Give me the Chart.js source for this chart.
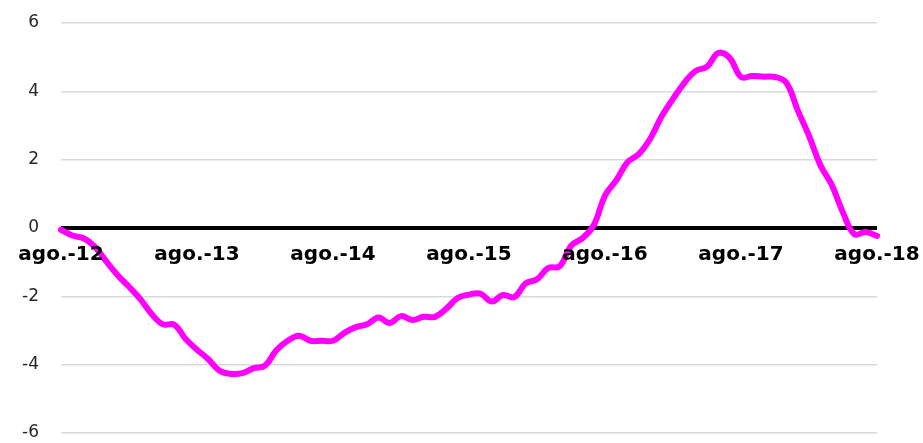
<!DOCTYPE html>
<html><head><meta charset="utf-8">
<script src="https://cdn.jsdelivr.net/npm/chart.js@4/dist/chart.umd.min.js"></script>
<style>html,body{margin:0;padding:0;background:#fff}#wrap{width:923px;height:443px}</style>
</head><body><div id="wrap"><canvas id="c" width="923" height="443"></canvas></div>
<script>
const months = ["ene.","feb.","mar.","abr.","may.","jun.","jul.","ago.","sep.","oct.","nov.","dic."];
// Monthly categories ago.-12 .. ago.-18
const categories = [];
for (let y = 12; y <= 18; y++) {
  for (let m = 0; m < 12; m++) {
    if ((y === 12 && m < 7) || (y === 18 && m > 7)) continue;
    categories.push(months[m] + "-" + y);
  }
}
const seriesValues = [
  -0.05,-0.22,-0.30,-0.55,-0.98,-1.38,-1.72,-2.08,-2.52,-2.82,-2.83,-3.25,
  -3.56,-3.84,-4.18,-4.27,-4.25,-4.10,-4.03,-3.58,-3.30,-3.15,-3.30,-3.30,
  -3.30,-3.07,-2.90,-2.82,-2.62,-2.78,-2.58,-2.69,-2.60,-2.60,-2.36,-2.05,
  -1.95,-1.92,-2.15,-1.96,-2.02,-1.62,-1.50,-1.17,-1.12,-0.52,-0.30,0.08,
  0.95,1.40,1.93,2.17,2.62,3.27,3.78,4.25,4.60,4.72,5.12,4.98,
  4.42,4.45,4.43,4.42,4.25,3.45,2.70,1.84,1.27,0.45,-0.18,-0.12,
  -0.23
];
const yTicks = [-6,-4,-2,0,2,4,6];

const xLabelPlugin = {
  id: 'xLabels',
  afterDatasetsDraw(chart) {
    const ctx = chart.ctx, xs = chart.scales.x, ys = chart.scales.y;
    const y0 = ys.getPixelForValue(0);
    ctx.save();
    ctx.font = 'bold 20px "DejaVu Sans"';
    ctx.fillStyle = '#000';
    ctx.textAlign = 'center';
    ctx.textBaseline = 'middle';
    categories.forEach((c, i) => {
      if (i % 12 === 0) ctx.fillText(c, xs.getPixelForValue(i), y0 + 27);
    });
    ctx.restore();
  }
};

new Chart(document.getElementById('c'), {
  type: 'line',
  data: {
    labels: categories,
    datasets: [{
      data: seriesValues,
      borderColor: '#ff00ff',
      borderWidth: 6,
      pointRadius: 0,
      tension: 0.4,
      borderCapStyle: 'round',
      borderJoinStyle: 'round',
      fill: false
    }]
  },
  plugins: [xLabelPlugin],
  options: {
    responsive: false,
    animation: false,
    layout: { padding: { left: 20, right: 46, top: 23, bottom: 10 } },
    plugins: { legend: { display: false }, tooltip: { enabled: false } },
    scales: {
      x: {
        type: 'category',
        offset: false,
        grid: { display: false, drawTicks: false },
        border: { display: false },
        ticks: { display: false },
        afterFit: s => { s.height = 0; s.paddingLeft = 0; s.paddingRight = 0; s.paddingTop = 0; s.paddingBottom = 0; }
      },
      y: {
        min: -6, max: 6,
        afterBuildTicks: function(ax) { ax.ticks = yTicks.map(v => ({ value: v })); },
        afterFit: s => { s.width = 41; s.paddingTop = 0; s.paddingBottom = 0; s.paddingLeft = 0; s.paddingRight = 0; },
        grid: {
          drawTicks: false,
          color: ctx => ctx.tick && ctx.tick.value === 0 ? '#000' : '#d9d9d9',
          lineWidth: ctx => ctx.tick && ctx.tick.value === 0 ? 4 : 1.5
        },
        border: { display: false },
        ticks: {
          padding: 22,
          color: '#262626',
          font: { family: 'DejaVu Sans', size: 17 }
        }
      }
    }
  }
});
</script>
</body></html>
